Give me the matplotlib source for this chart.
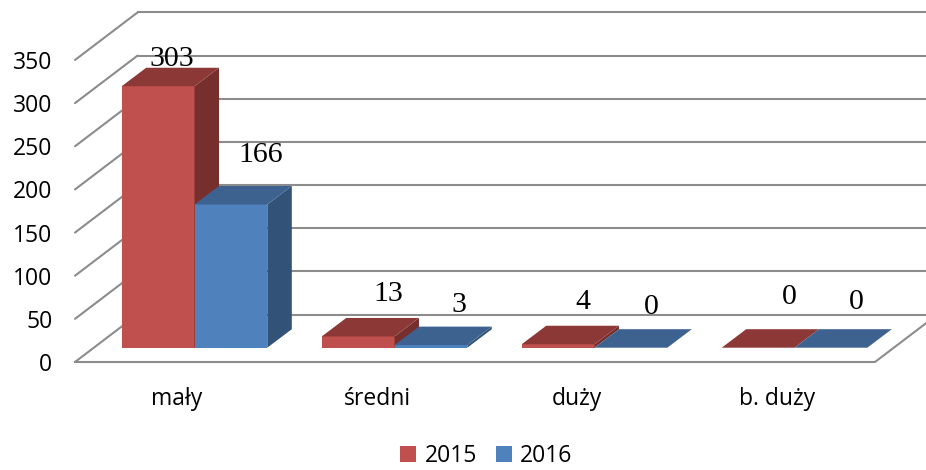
import matplotlib
matplotlib.use("Agg")
import matplotlib.pyplot as plt
from matplotlib.patches import Patch, Polygon


categories = ["mały", "średni", "duży", "b. duży"]
values_2015 = [303, 13, 4, 0]
values_2016 = [166, 3, 0, 0]
y_ticks = [0, 50, 100, 150, 200, 250, 300, 350]

# pixel nudges of the hand placed data labels (right, up), from top of each bar
offsets_2015 = [(14, 27), (30, 42), (25, 42), (31, 51)]
offsets_2016 = [(30, 49), (28, 40), (20, 41), (25, 46)]

WIDTH, HEIGHT = 926, 470
X0, X_UNIT = 75.0, 200.0
Y0, Y_UNIT = 362.0, 0.8629

BACK_DX, BACK_DY = 62.5 / X_UNIT, 47.5 / Y_UNIT
GAP_DX, GAP_DY = 19.5 / X_UNIT, 14.3 / Y_UNIT
DEPTH_DX, DEPTH_DY = 24.5 / X_UNIT, 18.5 / Y_UNIT
BAR_W = 72.8 / X_UNIT

GRID = "#8c8c8c"
RED = ("#c0504d", "#8c3836", "#772f2d")
BLUE = ("#4f81bd", "#3d6290", "#325277")


def draw_bar(ax, left, value, colors):
    front, top, side = colors
    base = GAP_DY
    right = left + BAR_W
    h = base + value
    ax.add_patch(Polygon([(left, base), (right, base), (right, h), (left, h)],
                         fc=front, ec="none", zorder=3))
    ax.add_patch(Polygon([(right, base), (right + DEPTH_DX, base + DEPTH_DY),
                          (right + DEPTH_DX, h + DEPTH_DY), (right, h)],
                         fc=side, ec="none", zorder=3))
    ax.add_patch(Polygon([(left, h), (right, h), (right + DEPTH_DX, h + DEPTH_DY),
                          (left + DEPTH_DX, h + DEPTH_DY)],
                         fc=top, ec="none", zorder=3))


def label_bar(ax, left, value, offset):
    ax.annotate(str(value), (left + BAR_W / 2, GAP_DY + value), xytext=offset,
                textcoords="offset pixels", ha="center", va="center",
                family="Liberation Serif", fontsize=21.5, color="black", zorder=5)


def main():
    fig = plt.figure(figsize=(WIDTH / 100, HEIGHT / 100), dpi=100)
    ax = fig.add_axes([0, 0, 1, 1])
    ax.set_xlim(-X0 / X_UNIT, (WIDTH - X0) / X_UNIT)
    ax.set_ylim((Y0 - HEIGHT) / Y_UNIT, Y0 / Y_UNIT)
    ax.axis("off")

    n = len(categories)
    for t in y_ticks:
        ax.plot([0, BACK_DX], [t, t + BACK_DY], color=GRID, lw=1.5, zorder=1,
                solid_capstyle="round")
        ax.plot([BACK_DX, n + BACK_DX], [t + BACK_DY, t + BACK_DY], color=GRID,
                lw=1.5, zorder=1)
        ax.text(-22.5 / X_UNIT, t, str(t), ha="right", va="center_baseline",
                family="Open Sans", fontsize=16.5, color="black")

    ax.plot([0, n, n + BACK_DX], [0, 0, BACK_DY], color=GRID, lw=1.5, zorder=2)

    for i, name in enumerate(categories):
        left = i + 0.5 - BAR_W + GAP_DX
        mid = left + BAR_W
        draw_bar(ax, left, values_2015[i], RED)
        draw_bar(ax, mid, values_2016[i], BLUE)
        label_bar(ax, left, values_2015[i], offsets_2015[i])
        label_bar(ax, mid, values_2016[i], offsets_2016[i])
        ax.text(i + 0.51, -42.5, name, ha="center", va="center",
                family="Open Sans", fontsize=16.5, color="black")

    handles = [Patch(fc=RED[0], ec="none", label="2015"),
               Patch(fc=BLUE[0], ec="none", label="2016")]
    ax.legend(handles=handles, loc="center", bbox_to_anchor=(486.5 / WIDTH, 1 - 456 / HEIGHT),
              ncol=2, frameon=False, prop={"family": "Open Sans", "size": 16.5},
              handlelength=0.7, handleheight=0.7, handletextpad=0.35, columnspacing=0.85,
              borderpad=0, borderaxespad=0)

    fig.savefig("out.png", dpi=100)
    plt.close(fig)


if __name__ == "__main__":
    main()
